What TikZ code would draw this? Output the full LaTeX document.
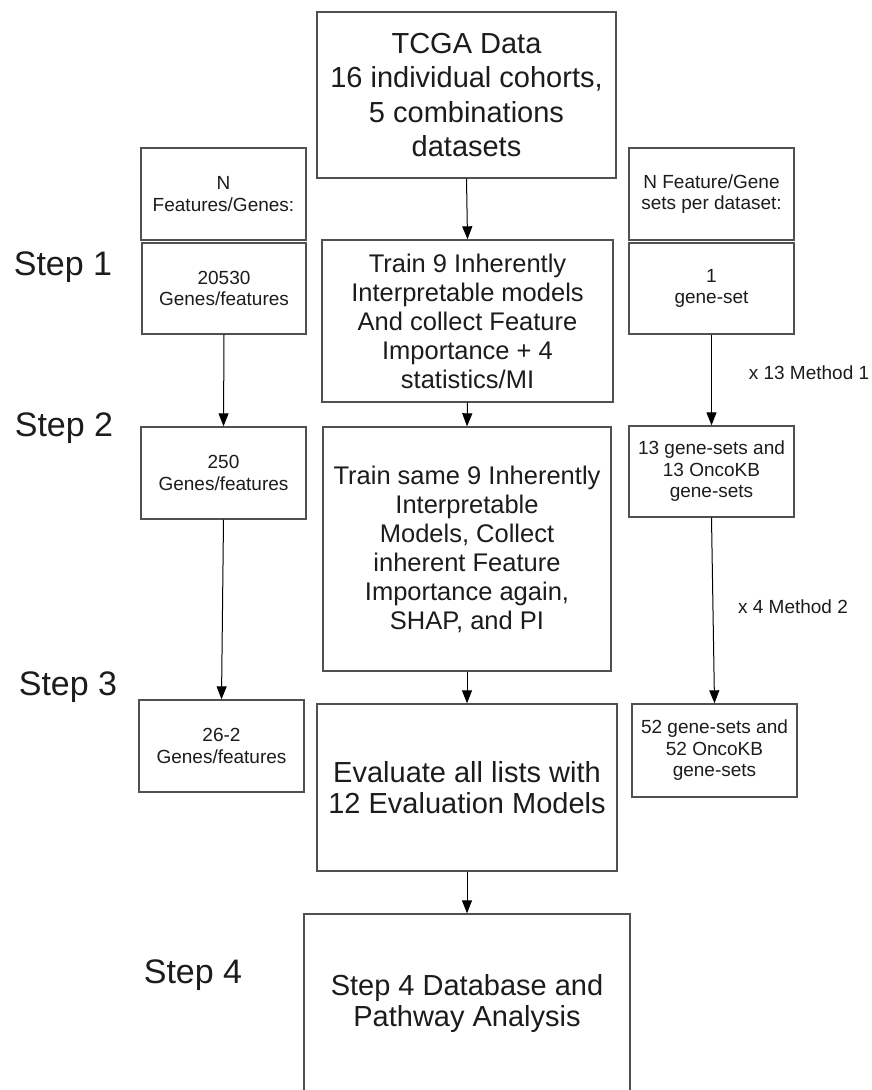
\documentclass[tikz,border=0pt]{standalone}
\usepackage{fontspec}
\setmainfont{Liberation Sans}
\usetikzlibrary{arrows.meta}
\definecolor{boxline}{HTML}{505050}
\definecolor{txt}{HTML}{1C1C1C}
\tikzset{
  box/.style={draw=boxline, line width=1.4pt, inner sep=0pt, align=center, text=txt},
  small/.style={font=\fontsize{19}{21.5}\selectfont},
  mid/.style={font=\fontsize{25.5}{29}\selectfont},
  big/.style={font=\fontsize{29}{31}\selectfont},
  tcga/.style={font=\fontsize{29}{34.5}\selectfont},
  steplabel/.style={font=\fontsize{34}{40}\selectfont, text=txt, inner sep=0pt},
  sidelabel/.style={font=\fontsize{19}{22}\selectfont, text=txt, inner sep=0pt},
  arr/.style={draw=black, line width=1pt, -{Triangle[width=10pt,length=13pt]}}
}
\begin{document}
\begin{tikzpicture}[x=1pt,y=-1pt]
\useasboundingbox (0,0) rectangle (872,1090);
\clip (0,0) rectangle (872,1090);
\fill[white] (0,0) rectangle (872,1090);
% middle column
\node[box,tcga,minimum width=299pt,minimum height=166pt] (tcga) at (466.5,95) {TCGA Data\\16 individual cohorts,\\5 combinations\\datasets};
\node[box,mid,minimum width=291pt,minimum height=162pt] (train) at (467.5,321) {Train 9 Inherently\\Interpretable models\\And collect Feature\\Importance + 4\\statistics/MI};
\node[box,mid,minimum width=288pt,minimum height=244pt] (retrain) at (467,549) {Train same 9 Inherently\\Interpretable\\Models, Collect\\inherent Feature\\Importance again,\\SHAP, and PI};
\node[box,big,minimum width=300pt,minimum height=167pt] (eval) at (467,787.5) {Evaluate all lists with\\12 Evaluation Models};
\node[box,big,minimum width=326pt,minimum height=179pt] (db) at (467,1003.5) {Step 4 Database and\\Pathway Analysis};
% left column
\node[box,small,minimum width=165pt,minimum height=92pt] (nfeat) at (223.5,194) {N\\Features/Genes:};
\node[box,small,minimum width=164pt,minimum height=91pt] (g20530) at (224,288.5) {20530\\Genes/features};
\node[box,small,minimum width=165pt,minimum height=92pt] (g250) at (223.5,473) {250\\Genes/features};
\node[box,small,minimum width=165pt,minimum height=92pt] (g262) at (221.5,746) {26-2\\Genes/features};
% right column
\node[box,small,minimum width=165pt,minimum height=92pt] (nset) at (711.5,194) {N Feature/Gene\\sets per dataset:};
\node[box,small,minimum width=165pt,minimum height=91pt] (s1) at (711.5,288.5) {1\\gene-set};
\node[box,small,minimum width=165pt,minimum height=91pt] (s13) at (711.5,471.5) {13 gene-sets and\\13 OncoKB\\gene-sets};
\node[box,small,minimum width=165pt,minimum height=93pt] (s52) at (714.5,750.5) {52 gene-sets and\\52 OncoKB\\gene-sets};
% step labels
\node[steplabel] (st1) at (63,267) {Step 1};
\node[steplabel] (st2) at (64,428) {Step 2};
\node[steplabel] (st3) at (68,687) {Step 3};
\node[steplabel] (st4) at (193,975) {Step 4};
% side labels
\node[sidelabel] (m1) at (809,373) {x 13 Method 1};
\node[sidelabel] (m2) at (793,607) {x 4 Method 2};
% arrows
\draw[arr] (tcga.south) -- (train.north);
\draw[arr] (train.south) -- (retrain.north);
\draw[arr] (retrain.south) -- (eval.north);
\draw[arr] (eval.south) -- (db.north);
\draw[arr] (g20530.south) -- (g250.north);
\draw[arr] (g250.south) -- (g262.north);
\draw[arr] (s1.south) -- (s13.north);
\draw[arr] (s13.south) -- (s52.north);
\end{tikzpicture}
\end{document}
